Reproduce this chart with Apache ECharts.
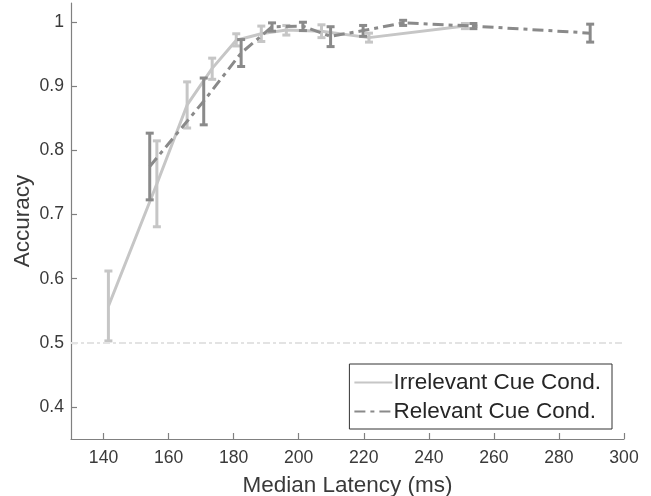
<!DOCTYPE html>
<html>
<head>
<meta charset="utf-8">
<script src="https://cdn.jsdelivr.net/npm/echarts@6/dist/echarts.min.js"></script>
<style>html,body{margin:0;padding:0;background:#fff}#c{width:651px;height:496px}</style>
</head>
<body>
<div id="c"></div>
<script>
// Irrelevant Cue Cond.
var irrX    = [141.5, 156.4, 165.7, 173.4, 180.8, 188.5, 196.2, 207.0, 221.6, 251.1];
var irrMean = [0.557, 0.748, 0.871, 0.928, 0.972, 0.982, 0.988, 0.986, 0.976, 0.994];
var irrLow  = [0.503, 0.681, 0.835, 0.911, 0.963, 0.970, 0.980, 0.976, 0.969, 0.990];
var irrHigh = [0.612, 0.815, 0.907, 0.944, 0.982, 0.994, 0.995, 0.996, 0.983, 0.998];
// Relevant Cue Cond.
var relX    = [154.2, 170.8, 182.3, 191.8, 201.3, 209.8, 219.8, 232.1, 253.7, 289.6];
var relMean = [0.775, 0.877, 0.952, 0.993, 0.994, 0.978, 0.987, 0.999, 0.994, 0.983];
var relLow  = [0.723, 0.840, 0.931, 0.986, 0.987, 0.962, 0.978, 0.995, 0.990, 0.969];
var relHigh = [0.827, 0.913, 0.973, 0.999, 1.000, 0.993, 0.995, 1.003, 0.998, 0.997];
// Ticks
var xTicks = [140, 160, 180, 200, 220, 240, 260, 280, 300];
var yTicks = [0.4, 0.5, 0.6, 0.7, 0.8, 0.9, 1];
var chanceLevel = 0.5;

var lightColor = '#c6c6c6';
var darkColor = '#8a8a8a';
var font = 'Liberation Sans, Arial, Helvetica, sans-serif';

function pairs(xs, ys) { return xs.map(function (x, i) { return [x, ys[i]]; }); }
function triples(xs, lo, hi) { return xs.map(function (x, i) { return [x, lo[i], hi[i]]; }); }

function errRender(color) {
  return function (params, api) {
    var x = api.value(0);
    var lo = api.coord([x, api.value(1)]);
    var hi = api.coord([x, api.value(2)]);
    var hw = 4;
    var st = { stroke: color, lineWidth: 3 };
    return {
      type: 'group',
      children: [
        { type: 'line', shape: { x1: lo[0], y1: lo[1], x2: hi[0], y2: hi[1] }, style: st },
        { type: 'line', shape: { x1: lo[0] - hw, y1: lo[1], x2: lo[0] + hw, y2: lo[1] }, style: st },
        { type: 'line', shape: { x1: hi[0] - hw, y1: hi[1], x2: hi[0] + hw, y2: hi[1] }, style: st }
      ]
    };
  };
}

var chart = echarts.init(document.getElementById('c'));
chart.setOption({
  animation: false,
  backgroundColor: '#fff',
  grid: { left: 71, right: 27, top: 3, bottom: 57, containLabel: false, outerBoundsMode: 'none' },
  xAxis: {
    type: 'value', min: 130, max: 300,
    name: 'Median Latency (ms)', nameLocation: 'middle', nameGap: 35, nameMoveOverlap: false,
    nameTextStyle: { fontFamily: font, fontSize: 22.5, color: '#3a3a3a' },
    axisLine: { show: true, lineStyle: { color: '#808080', width: 1.2 } },
    axisTick: { show: true, inside: true, length: 6, customValues: xTicks, lineStyle: { color: '#808080', width: 1.2 } },
    axisLabel: { customValues: xTicks, fontFamily: font, fontSize: 17.6, color: '#3a3a3a', margin: 10 },
    splitLine: { show: false }
  },
  yAxis: {
    type: 'value', min: 0.35, max: 1.03,
    name: 'Accuracy', nameLocation: 'middle', nameGap: 37, nameMoveOverlap: false,
    nameTextStyle: { fontFamily: font, fontSize: 22.5, color: '#3a3a3a' },
    axisLine: { show: true, lineStyle: { color: '#808080', width: 1.2 } },
    axisTick: { show: true, inside: true, length: 6, customValues: yTicks, lineStyle: { color: '#808080', width: 1.2 } },
    axisLabel: { customValues: yTicks, fontFamily: font, fontSize: 17.6, color: '#3a3a3a', margin: 7,
      formatter: function (v) { return String(Math.round(v * 10) / 10); } },
    splitLine: { show: false }
  },
  legend: {
    orient: 'vertical', right: 39, top: 364,
    data: ['Irrelevant Cue Cond.', 'Relevant Cue Cond.'],
    backgroundColor: '#fff', borderColor: '#333', borderWidth: 1,
    padding: [7, 11, 6, 4], itemGap: 6, itemWidth: 38, itemHeight: 22,
    itemStyle: { opacity: 0 },
    textStyle: { fontFamily: font, fontSize: 22.5, color: '#262626', padding: [0, 0, 0, -4] }
  },
  series: [
    {
      name: 'Irrelevant Cue Cond.', type: 'line', data: pairs(irrX, irrMean),
      symbol: 'none', lineStyle: { color: lightColor, width: 3 }, itemStyle: { color: lightColor }, z: 2,
      markLine: {
        silent: true, symbol: 'none', label: { show: false },
        lineStyle: { color: '#e3e3e3', width: 2, type: [7, 3, 3, 3] },
        data: [{ yAxis: chanceLevel }]
      }
    },
    {
      name: 'irrErr', type: 'custom', data: triples(irrX, irrLow, irrHigh),
      renderItem: errRender(lightColor), z: 2, encode: { x: 0, y: [1, 2] }
    },
    {
      name: 'Relevant Cue Cond.', type: 'line', data: pairs(relX, relMean),
      symbol: 'none', lineStyle: { color: darkColor, width: 3, type: [11, 5, 4, 5] }, itemStyle: { color: darkColor }, z: 3
    },
    {
      name: 'relErr', type: 'custom', data: triples(relX, relLow, relHigh),
      renderItem: errRender(darkColor), z: 3, encode: { x: 0, y: [1, 2] }
    }
  ]
});
</script>
</body>
</html>
